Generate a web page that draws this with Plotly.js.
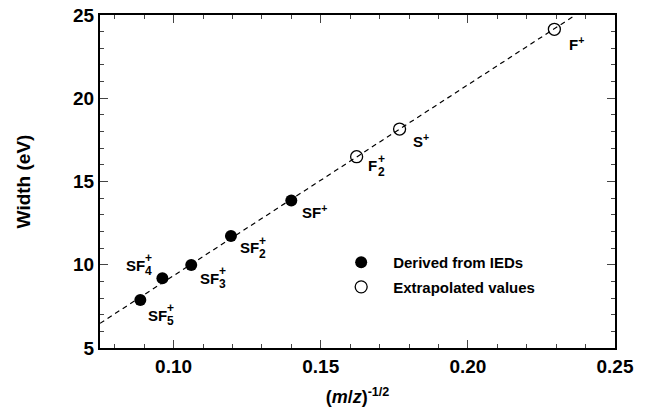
<!DOCTYPE html>
<html><head><meta charset="utf-8">
<script src="https://cdn.plot.ly/plotly-3.0.1.min.js"></script>
<style>body{margin:0;background:#fff}#c{width:646px;height:413px}</style>
</head><body><div id="c"></div>
<script>
// data
const ionNames = ['SF5+','SF4+','SF3+','SF2+','SF+','F2+','S+','F+'];
const derivedX = [0.0887, 0.0962, 0.1060, 0.1195, 0.1400];
const derivedY = [7.88, 9.19, 9.98, 11.73, 13.86];
const extrapX = [0.1622, 0.1768, 0.2294];
const extrapY = [16.49, 18.15, 24.14];
const fitX = [0.075, 0.2366];
const fitY = [6.48, 25.0];
const labelMain = ['SF','SF','SF','SF','SF<sup>+</sup>','F','S<sup>+</sup>','F<sup>+</sup>'];
const labelSub = ['5','4','3','2','','2','',''];
const allX = derivedX.concat(extrapX);
const allY = derivedY.concat(extrapY);

const font = 'Liberation Sans, Arial, sans-serif';
const traces = [
  {x: fitX, y: fitY, mode: 'lines', line: {color: '#000', width: 1.2, dash: '5px,4px'}, showlegend: false, hoverinfo: 'skip'},
  {x: derivedX, y: derivedY, mode: 'markers', name: 'Derived from IEDs', legendgroup: 'a',
   marker: {symbol: 'circle', size: 12, color: '#000'}},
  {x: extrapX, y: extrapY, mode: 'markers', name: 'Extrapolated values', legendgroup: 'b',
   marker: {symbol: 'circle-open', size: 12, color: '#000', line: {width: 1.3}}}
];

const offX = [6, -38, 7, 7, 9, 9, 11, 13];
const offY = [-15, 13, -13, -12, -11, -9, -11, -14];
const annotations = [];
for (let i = 0; i < allX.length; i++) {
  annotations.push({x: allX[i], y: allY[i], xref: 'x', yref: 'y', text: labelMain[i], showarrow: false,
    xanchor: 'left', yanchor: 'middle', xshift: offX[i], yshift: offY[i],
    font: {family: font, size: 15, color: '#000', weight: 'bold'}});
  if (labelSub[i]) {
    const w = labelMain[i] === 'SF' ? 19 : 10;
    annotations.push({x: allX[i], y: allY[i], xref: 'x', yref: 'y', text: labelSub[i], showarrow: false,
      xanchor: 'left', yanchor: 'middle', xshift: offX[i] + w, yshift: offY[i] - 6,
      font: {family: font, size: 12, color: '#000', weight: 'bold'}});
    annotations.push({x: allX[i], y: allY[i], xref: 'x', yref: 'y', text: '+', showarrow: false,
      xanchor: 'left', yanchor: 'middle', xshift: offX[i] + w, yshift: offY[i] + 7,
      font: {family: font, size: 12, color: '#000', weight: 'bold'}});
  }
}

const layout = {
  width: 646, height: 413,
  margin: {l: 100, r: 31, t: 15, b: 65},
  paper_bgcolor: '#fff', plot_bgcolor: '#fff',
  font: {family: font, color: '#000'},
  showlegend: true,
  legend: {x: 0.445, y: 0.306, xanchor: 'left', yanchor: 'top', bgcolor: 'rgba(0,0,0,0)', itemwidth: 54,
    font: {family: font, size: 15, color: '#000', weight: 'bold'}, tracegroupgap: 2},
  xaxis: {range: [0.075, 0.25], dtick: 0.05, tick0: 0, tickformat: '.2f',
    ticks: 'inside', ticklen: 8, tickwidth: 1.2, mirror: 'ticks', showline: true, linewidth: 2, linecolor: '#000',
    showgrid: false, zeroline: false, tickfont: {size: 19, family: font, weight: 'bold'},
    minor: {dtick: 0.01, tick0: 0, ticks: 'inside', ticklen: 4, tickwidth: 1, showgrid: false},
    title: {text: '(<i>m</i>/<i>z</i>)<sup>-1/2</sup>', font: {size: 18, family: font, weight: 'bold'}, standoff: 15}},
  yaxis: {range: [5, 25], dtick: 5, tick0: 0,
    ticks: 'inside', ticklen: 8, tickwidth: 1.2, mirror: 'ticks', showline: true, linewidth: 2, linecolor: '#000',
    showgrid: false, zeroline: false, tickfont: {size: 19, family: font, weight: 'bold'},
    minor: {dtick: 1, tick0: 0, ticks: 'inside', ticklen: 4, tickwidth: 1, showgrid: false},
    title: {text: 'Width (eV)', font: {size: 19, family: font, weight: 'bold'}, standoff: 37}},
  annotations: annotations
};
Plotly.newPlot('c', traces, layout, {displayModeBar: false, staticPlot: true});
</script></body></html>
